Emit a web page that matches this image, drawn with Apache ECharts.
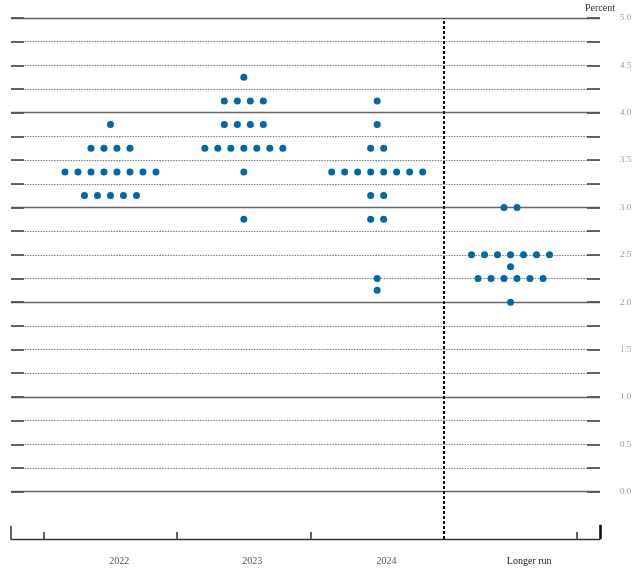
<!DOCTYPE html>
<html>
<head>
<meta charset="utf-8">
<script src="https://cdn.jsdelivr.net/npm/echarts@6/dist/echarts.min.js"></script>
<style>
html,body{margin:0;padding:0;background:#fff;}
#chart{width:640px;height:572px;}
</style>
</head>
<body>
<div id="chart"></div>
<script>
// ---- data ----
const categories = ['2022', '2023', '2024', 'Longer run'];

const levels2022 = [3.125, 3.375, 3.625, 3.875];
const counts2022 = [5, 8, 4, 1];

const levels2023 = [2.875, 3.375, 3.625, 3.875, 4.125, 4.375];
const counts2023 = [1, 1, 7, 4, 4, 1];

const levels2024 = [2.125, 2.25, 2.875, 3.125, 3.375, 3.625, 3.875, 4.125];
const counts2024 = [1, 1, 2, 2, 8, 2, 1, 1];

const levelsLonger = [2.0, 2.25, 2.375, 2.5, 3.0];
const countsLonger = [1, 6, 1, 7, 2];

const yTickLabels = ['0.0','0.5','1.0','1.5','2.0','2.5','3.0','3.5','4.0','4.5','5.0'];
const gridLevels = [0,0.25,0.5,0.75,1,1.25,1.5,1.75,2,2.25,2.5,2.75,3,3.25,3.5,3.75,4,4.25,4.5,4.75,5];

// ---- layout ----
const X_MIN = -0.746, X_MAX = 3.671;
const Y_MIN = -0.5, Y_MAX = 5;
const DOT_GAP = 0.0975;
const CAP = 0.0975;

function buildDots(levels, counts, catIdx) {
  const out = [];
  levels.forEach((lv, i) => {
    const n = counts[i];
    for (let k = 0; k < n; k++) {
      out.push([catIdx + (k - (n - 1) / 2) * DOT_GAP, lv]);
    }
  });
  return out;
}

const dots = []
  .concat(buildDots(levels2022, counts2022, 0))
  .concat(buildDots(levels2023, counts2023, 1))
  .concat(buildDots(levels2024, counts2024, 2))
  .concat(buildDots(levelsLonger, countsLonger, 3));

const gridLines = [];
gridLevels.forEach(v => {
  const isInt = Math.abs(v - Math.round(v)) < 1e-9;
  gridLines.push({
    yAxis: v,
    lineStyle: isInt
      ? { color: '#666', width: 1.3, type: 'solid' }
      : { color: '#808080', width: 1, type: [1.5, 1.2] }
  });
  gridLines.push([
    { coord: [X_MIN, v], lineStyle: { color: '#555', width: 1.8, type: 'solid' } },
    { coord: [X_MIN + CAP, v] }
  ]);
  gridLines.push([
    { coord: [X_MAX - CAP, v], lineStyle: { color: '#555', width: 1.8, type: 'solid' } },
    { coord: [X_MAX, v] }
  ]);
});
// divider between projections and longer run
gridLines.push({ xAxis: 2.5, lineStyle: { color: '#111', width: 2, type: [3, 2] } });
// end ticks of the bottom axis
gridLines.push([
  { coord: [X_MIN, Y_MIN], lineStyle: { color: '#333', width: 1.5, type: 'solid' } },
  { coord: [X_MIN, Y_MIN + 0.14] }
]);
gridLines.push([
  { coord: [X_MAX, Y_MIN], lineStyle: { color: '#111', width: 2.6, type: 'solid' } },
  { coord: [X_MAX, Y_MIN + 0.15] }
]);

const serif = "'Liberation Serif', 'DejaVu Serif', serif";

const chart = echarts.init(document.getElementById('chart'), null, { renderer: 'canvas' });
chart.setOption({
  animation: false,
  backgroundColor: '#fff',
  grid: { left: 11, right: 40, top: 18, bottom: 33, containLabel: false },
  xAxis: {
    type: 'value',
    min: X_MIN,
    max: X_MAX,
    splitLine: { show: false },
    axisLine: { show: true, onZero: false, lineStyle: { color: '#333', width: 1.3 } },
    axisTick: {
      show: true,
      inside: true,
      length: 7,
      customValues: [-0.5, 0.5, 1.5, 3.5],
      lineStyle: { color: '#333', width: 1.5 }
    },
    axisLabel: {
      show: true,
      customValues: [0.065, 1.063, 2.07, 3.14],
      formatter: v => {
        const name = categories[Math.round(v)];
        return name === 'Longer run' ? '{b|' + name + '}' : '{a|' + name + '}';
      },
      margin: 17,
      rich: {
        a: { fontFamily: serif, fontSize: 10, color: '#555' },
        b: { fontFamily: serif, fontSize: 10, color: '#222' }
      }
    }
  },
  yAxis: {
    type: 'value',
    position: 'right',
    min: Y_MIN,
    max: Y_MAX,
    interval: 0.25,
    name: 'Percent',
    nameLocation: 'end',
    nameGap: 10,
    nameTextStyle: { fontFamily: serif, fontSize: 10, color: '#333', align: 'center', verticalAlign: 'middle' },
    splitLine: { show: false },
    axisLine: { show: false, onZero: false },
    axisTick: { show: false },
    axisLabel: {
      margin: 20,
      fontFamily: serif,
      fontSize: 9,
      color: '#999',
      formatter: v => {
        const idx = Math.round(v * 2);
        if (v < -1e-9 || Math.abs(v * 2 - idx) > 1e-6) return '';
        return yTickLabels[idx] || '';
      }
    }
  },
  series: [
    {
      type: 'line',
      data: [],
      z: 1,
      silent: true,
      markLine: {
        silent: true,
        symbol: ['none', 'none'],
        label: { show: false },
        animation: false,
        data: gridLines
      }
    },
    {
      type: 'scatter',
      z: 5,
      symbol: 'circle',
      symbolSize: 7,
      itemStyle: { color: '#006aa6', opacity: 1 },
      data: dots
    }
  ]
});
</script>
</body>
</html>
